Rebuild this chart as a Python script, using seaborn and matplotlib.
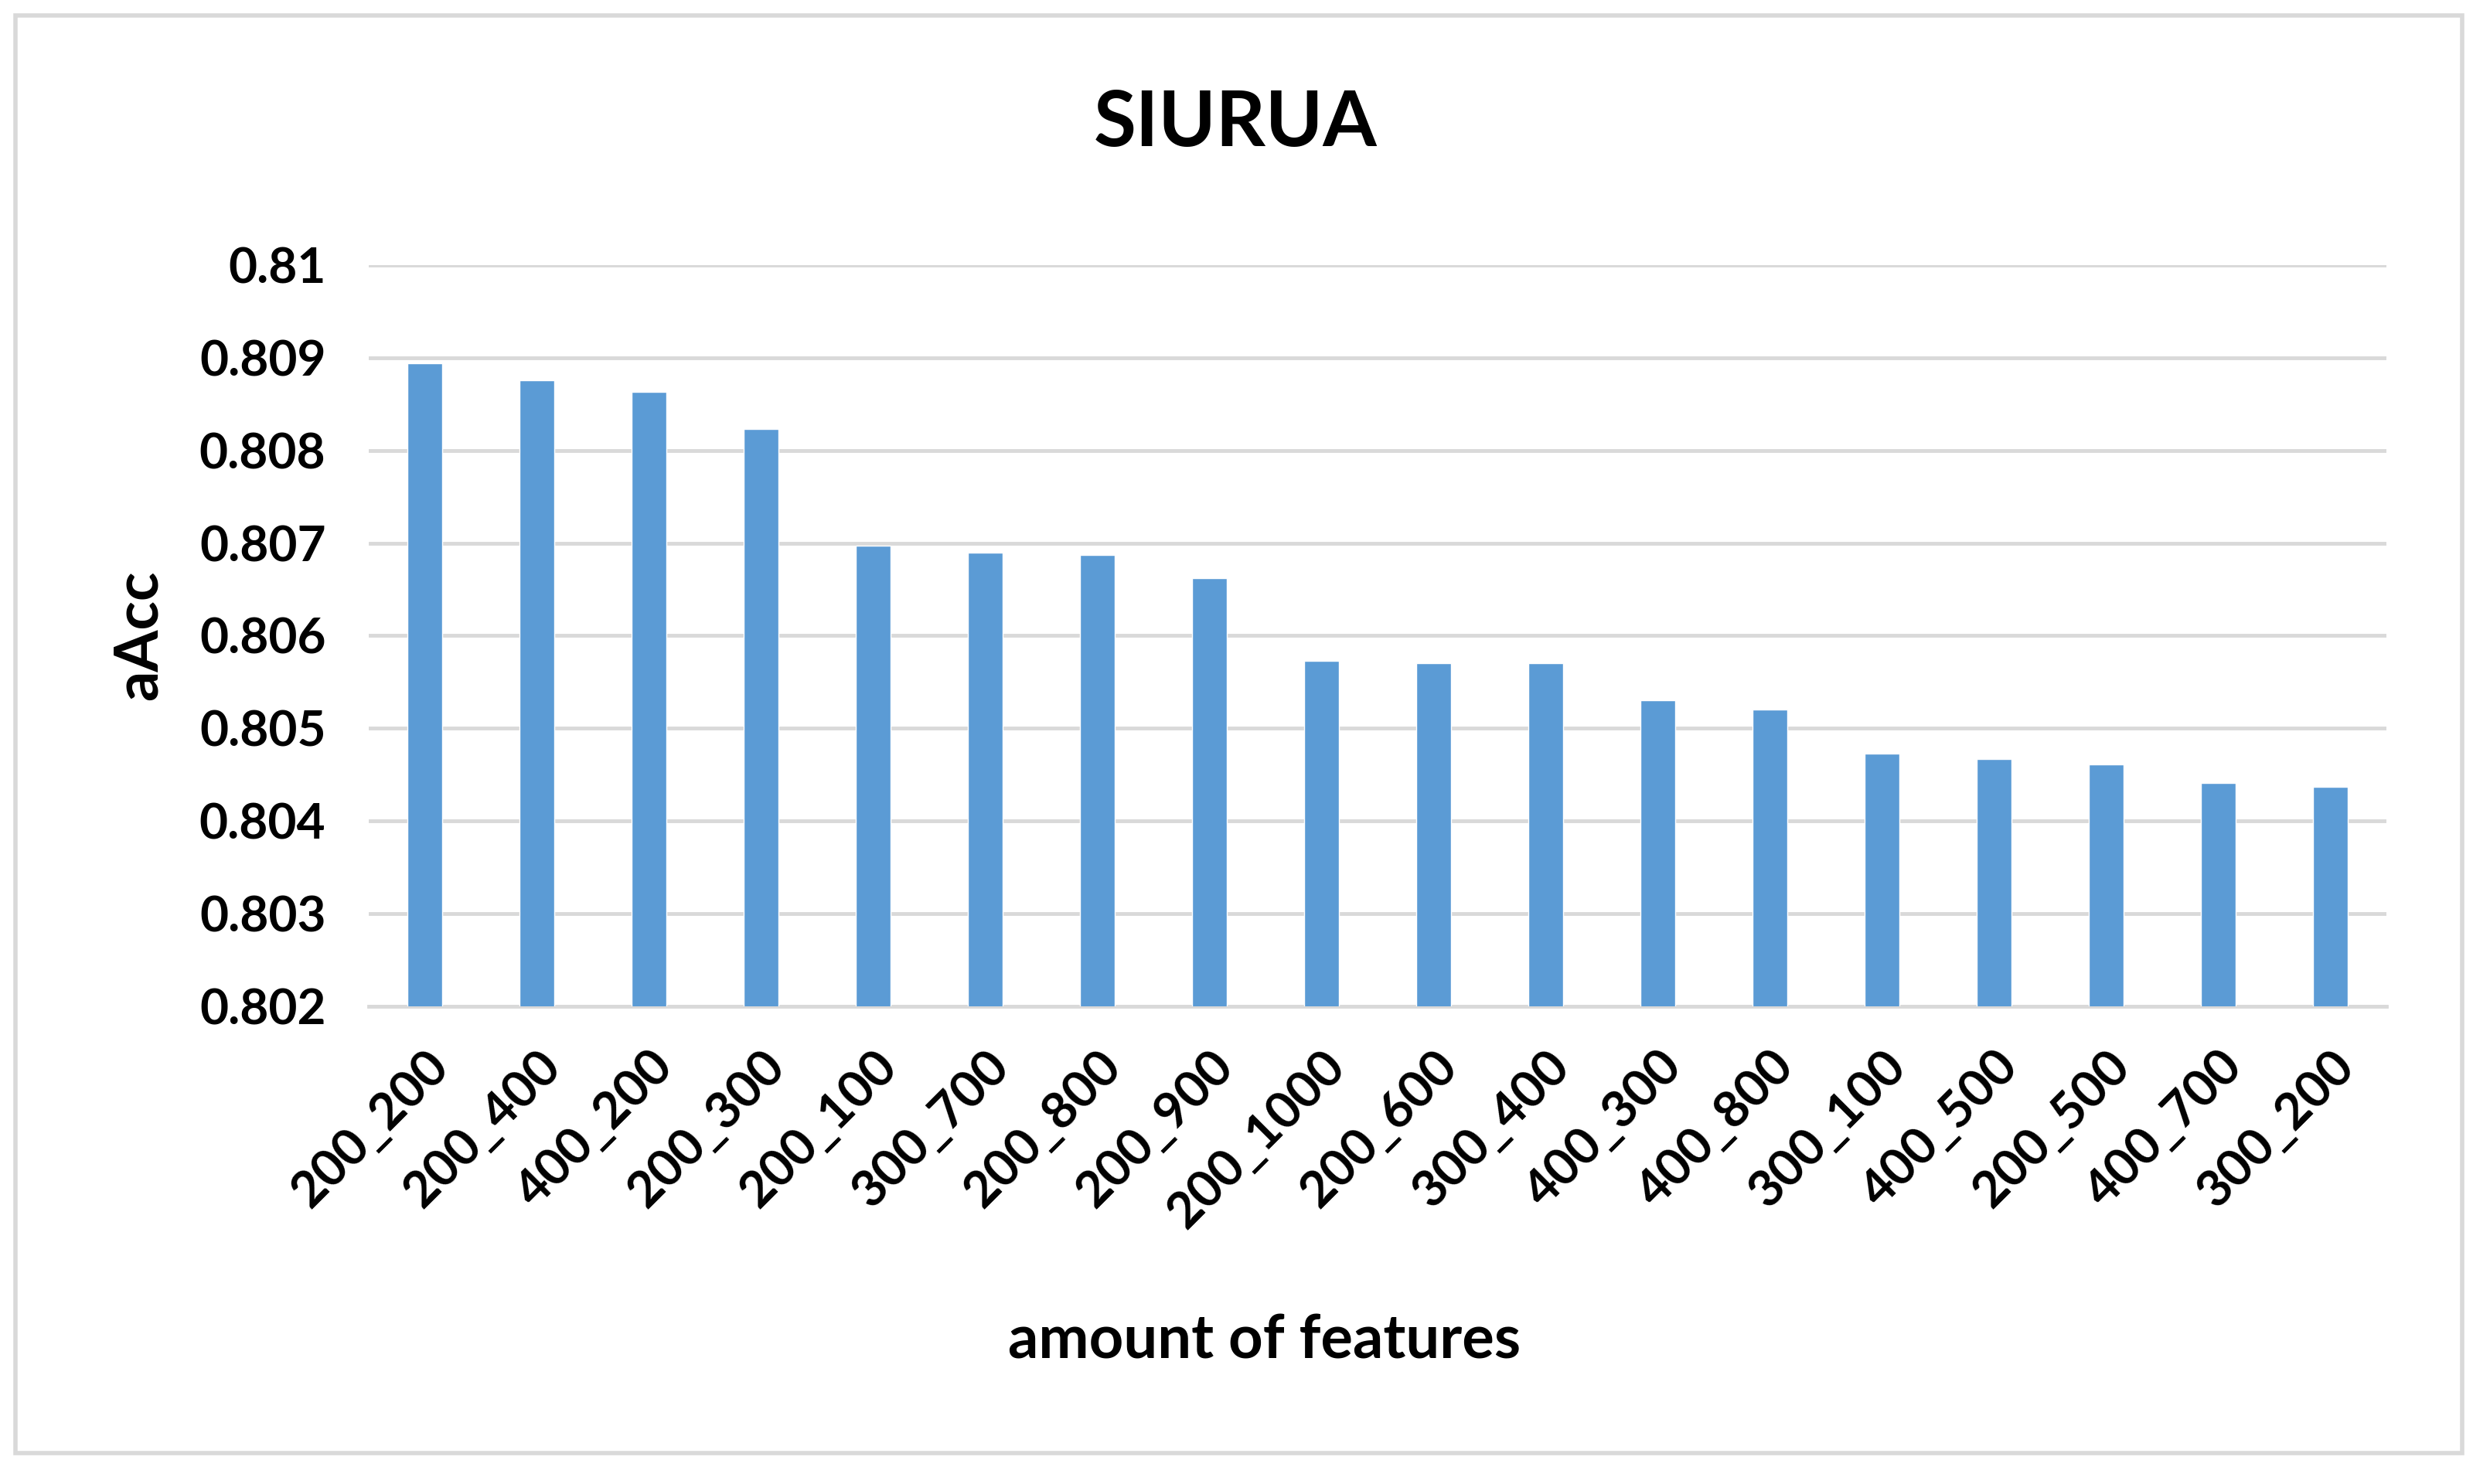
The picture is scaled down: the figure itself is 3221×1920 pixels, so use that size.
import matplotlib
matplotlib.use("Agg")
import matplotlib.pyplot as plt
import seaborn as sns
import pandas as pd
import numpy as np
from matplotlib.patches import Rectangle
from matplotlib.ticker import FuncFormatter, MultipleLocator

categories = ["200_200", "200_400", "400_200", "200_300", "200_100", "300_700",
              "200_800", "200_900", "200_1000", "200_600", "300_400", "400_300",
              "400_800", "300_100", "400_500", "200_500", "400_700", "300_200"]
values = [0.80894, 0.80876, 0.80863, 0.80823, 0.80697, 0.80690,
          0.80687, 0.80662, 0.80573, 0.80570, 0.80570, 0.80530,
          0.80520, 0.80473, 0.80467, 0.80461, 0.80441, 0.80437]

title = "SIURUA"
xlabel = "amount of features"
ylabel = "aAcc"

sns.set_theme(style="white")
plt.rcParams['font.family'] = ['Lato', 'DejaVu Sans']
plt.rcParams['text.color'] = 'black'
plt.rcParams['xtick.color'] = 'black'
plt.rcParams['ytick.color'] = 'black'

W, H, DPI = 3221, 1920, 100
fig = plt.figure(figsize=(W / DPI, H / DPI), dpi=DPI)
fig.patch.set_facecolor("white")

# outer chart border
fig.add_artist(Rectangle((20 / W, 1 - 1880 / H), (3185 - 20) / W, (1880 - 20) / H,
                         transform=fig.transFigure, fill=False,
                         edgecolor="#D9D9D9", linewidth=4))

ax = fig.add_axes([477 / W, 1 - 1302 / H, (3087 - 477) / W, (1302 - 343) / H])

df = pd.DataFrame({"feat": categories, "acc": values})
sns.barplot(data=df, x="feat", y="acc", color="#5B9BD5", saturation=1,
            width=0.31, ax=ax, zorder=3)

ax.set_ylim(0.802, 0.810)
ax.set_xlim(-0.5, len(categories) - 0.5)
ax.yaxis.set_major_locator(MultipleLocator(0.001))
ax.yaxis.set_major_formatter(FuncFormatter(lambda v, p: f"{v:.3f}".rstrip("0")))
ax.grid(axis="y", color="#D9D9D9", linewidth=3.5, zorder=0)
ax.set_axisbelow(True)
for s in ["left", "right", "top"]:
    ax.spines[s].set_visible(False)
ax.spines["bottom"].set_color("#D9D9D9")
ax.spines["bottom"].set_linewidth(3.5)
ax.tick_params(axis="both", length=0, colors="black")
ax.tick_params(axis="y", pad=40, labelsize=46)
ax.tick_params(axis="x", pad=34, labelsize=47)
for lab in ax.get_yticklabels():
    lab.set_fontweight("bold")
for lab in ax.get_xticklabels():
    lab.set_fontweight("bold")
    lab.set_rotation(45)
    lab.set_ha("right")
    lab.set_rotation_mode("anchor")

ax.set_xlabel("")
ax.set_ylabel("")
fig.text(1636 / W, 1 - 1736 / H, xlabel, ha="center", va="center",
         fontsize=56, fontweight="bold", color="black")
fig.text(181 / W, 1 - 822 / H, ylabel, ha="center", va="center",
         fontsize=56, fontweight="bold", rotation=90, color="black")
fig.text(1598 / W, 1 - 160 / H, title, ha="center", va="center",
         fontsize=72, fontweight="bold", color="black")

fig.savefig("out.png", dpi=DPI, facecolor="white")
